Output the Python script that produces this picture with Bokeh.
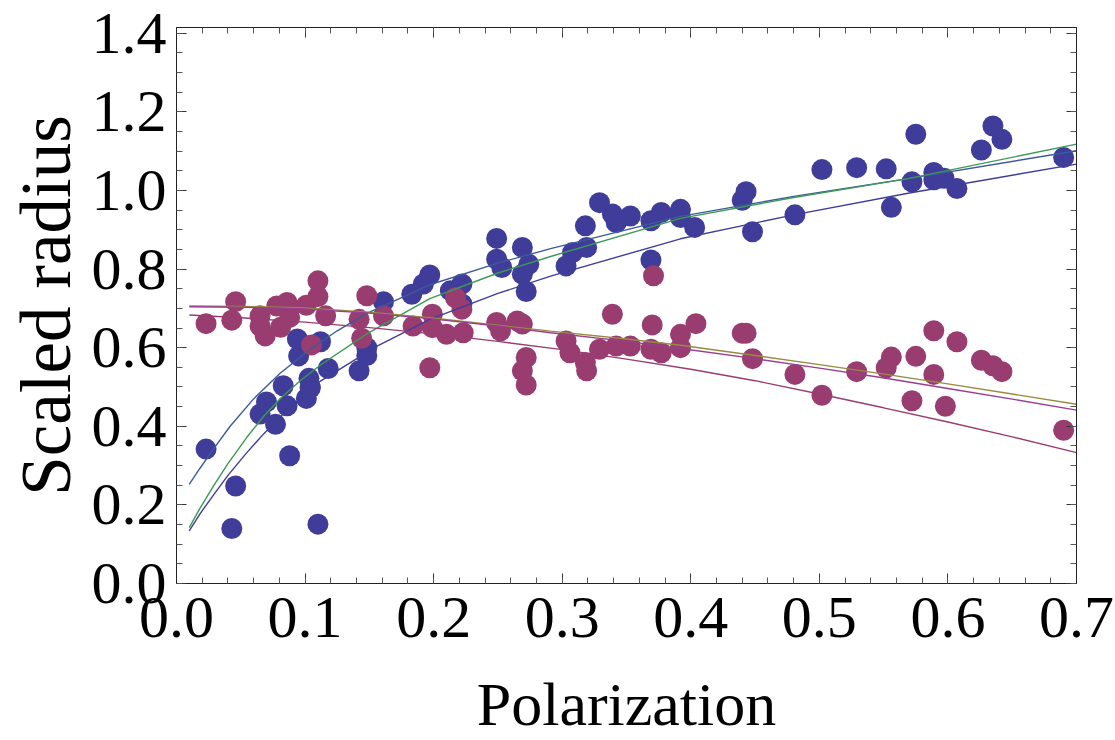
from bokeh.plotting import figure
from bokeh.models import (Range1d, FixedTicker, LinearAxis, PrintfTickFormatter,
                          CustomJSTickFormatter)
from bokeh.embed import file_html
from bokeh.resources import INLINE

# ---- data ----
blue_x = [0.023, 0.046, 0.043, 0.110, 0.088, 0.065, 0.070, 0.077, 0.083, 0.086,
          0.095, 0.094, 0.101, 0.104, 0.103, 0.112, 0.118, 0.142, 0.148, 0.148,
          0.161, 0.183, 0.192, 0.197, 0.213, 0.222, 0.222, 0.249, 0.249, 0.253,
          0.269, 0.274, 0.269, 0.272, 0.303, 0.308, 0.319, 0.318, 0.329, 0.339,
          0.342, 0.353, 0.369, 0.377, 0.392, 0.392, 0.403, 0.369, 0.440, 0.443,
          0.448, 0.481, 0.502, 0.529, 0.552, 0.556, 0.572, 0.575, 0.589, 0.589,
          0.597, 0.607, 0.626, 0.635, 0.642, 0.690, 0.104]
blue_y = [0.342, 0.248, 0.140, 0.151, 0.325, 0.431, 0.462, 0.405, 0.503, 0.452,
          0.579, 0.622, 0.471, 0.498, 0.522, 0.615, 0.547, 0.541, 0.580, 0.600,
          0.717, 0.736, 0.762, 0.785, 0.745, 0.762, 0.711, 0.878, 0.825, 0.804,
          0.855, 0.812, 0.787, 0.743, 0.808, 0.842, 0.855, 0.910, 0.969, 0.940,
          0.918, 0.935, 0.923, 0.944, 0.952, 0.931, 0.906, 0.823, 0.975, 0.997,
          0.895, 0.938, 1.053, 1.058, 1.055, 0.957, 1.022, 1.143, 1.046, 1.027,
          1.031, 1.005, 1.103, 1.164, 1.130, 1.084, 0.498]

purple_x = [0.023, 0.043, 0.046, 0.065, 0.065, 0.069, 0.078, 0.086, 0.081, 0.088,
            0.101, 0.110, 0.110, 0.105, 0.116, 0.148, 0.144, 0.142, 0.161, 0.184,
            0.197, 0.223, 0.210, 0.199, 0.199, 0.222, 0.217, 0.249, 0.252, 0.265,
            0.269, 0.272, 0.269, 0.272, 0.303, 0.306, 0.318, 0.319, 0.329, 0.339,
            0.342, 0.353, 0.369, 0.377, 0.370, 0.371, 0.392, 0.392, 0.404, 0.440,
            0.443, 0.448, 0.481, 0.502, 0.529, 0.552, 0.556, 0.572, 0.575, 0.589,
            0.589, 0.598, 0.607, 0.626, 0.635, 0.642, 0.690, 0.088]
purple_y = [0.661, 0.670, 0.717, 0.681, 0.655, 0.630, 0.706, 0.715, 0.652, 0.677,
            0.708, 0.770, 0.730, 0.607, 0.681, 0.732, 0.624, 0.672, 0.681, 0.655,
            0.549, 0.638, 0.634, 0.651, 0.685, 0.698, 0.727, 0.664, 0.643, 0.668,
            0.660, 0.575, 0.541, 0.505, 0.617, 0.587, 0.562, 0.541, 0.596, 0.685,
            0.604, 0.604, 0.596, 0.587, 0.658, 0.783, 0.634, 0.600, 0.661, 0.637,
            0.637, 0.572, 0.532, 0.479, 0.539, 0.549, 0.576, 0.465, 0.578, 0.643,
            0.532, 0.451, 0.615, 0.568, 0.554, 0.539, 0.390, 0.702]

# fitted curves
fit_a_x = [0.0099, 0.018, 0.0287, 0.0417, 0.0598, 0.0806, 0.104, 0.125, 0.148,
           0.197, 0.250, 0.291, 0.392, 0.480, 0.569, 0.700]
fit_a_y = [0.252, 0.292, 0.342, 0.400, 0.469, 0.535, 0.596, 0.643, 0.687,
           0.760, 0.815, 0.852, 0.934, 0.985, 1.030, 1.101]
fit_b_x = [0.0099, 0.018, 0.0287, 0.040, 0.0547, 0.068, 0.0806, 0.0962, 0.112,
           0.148, 0.197, 0.250, 0.291, 0.392, 0.480, 0.569, 0.700]
fit_b_y = [0.142, 0.190, 0.248, 0.305, 0.372, 0.426, 0.470, 0.516, 0.556,
           0.635, 0.725, 0.790, 0.832, 0.929, 0.982, 1.030, 1.118]
fit_c_x = [0.0099, 0.018, 0.0287, 0.040, 0.0547, 0.0676, 0.085, 0.112, 0.156,
           0.197, 0.250, 0.291, 0.392, 0.480, 0.569, 0.700]
fit_c_y = [0.134, 0.176, 0.225, 0.275, 0.333, 0.380, 0.438, 0.515, 0.604,
           0.672, 0.738, 0.782, 0.877, 0.938, 0.993, 1.067]
fit_d_x = [0.010, 0.050, 0.096, 0.150, 0.197, 0.250, 0.291, 0.350, 0.392,
           0.450, 0.500, 0.548, 0.600, 0.650, 0.700]
fit_d_y = [0.706, 0.705, 0.702, 0.690, 0.676, 0.657, 0.642, 0.622, 0.606,
           0.580, 0.557, 0.534, 0.508, 0.482, 0.456]
fit_e_x = [0.010, 0.050, 0.096, 0.150, 0.197, 0.250, 0.291, 0.350, 0.392,
           0.450, 0.500, 0.548, 0.600, 0.650, 0.700]
fit_e_y = [0.704, 0.703, 0.699, 0.688, 0.674, 0.655, 0.638, 0.616, 0.598,
           0.572, 0.548, 0.524, 0.496, 0.469, 0.441]
fit_f_x = [0.010, 0.050, 0.100, 0.150, 0.200, 0.250, 0.300, 0.350, 0.400,
           0.450, 0.500, 0.550, 0.600, 0.650, 0.700]
fit_f_y = [0.683, 0.676, 0.665, 0.651, 0.635, 0.616, 0.595, 0.571, 0.545,
           0.516, 0.482, 0.447, 0.411, 0.373, 0.333]

x_ticks = [0.0, 0.1, 0.2, 0.3, 0.4, 0.5, 0.6, 0.7]
x_minor = [i * 0.02 for i in range(0, 36)]
y_ticks = [0.0, 0.2, 0.4, 0.6, 0.8, 1.0, 1.2, 1.4]
y_minor = [i * 0.05 for i in range(0, 29)]

BLUE = "#3F3D99"
PURPLE = "#993D71"
FONT = "Liberation Serif"

p = figure(width=1115, height=740, output_backend="svg", toolbar_location=None,
           x_range=Range1d(0.0, 0.7), y_range=Range1d(0.0, 1.4146),
           x_axis_type=None, y_axis_type=None,
           min_border_left=176, min_border_right=39, min_border_top=27,
           min_border_bottom=157)
p.grid.visible = False
p.outline_line_color = "#222222"
p.background_fill_color = "white"
p.border_fill_color = "white"

xt = FixedTicker(ticks=x_ticks, minor_ticks=x_minor)
yt = FixedTicker(ticks=y_ticks, minor_ticks=y_minor)

bottom = LinearAxis(axis_label="Polarization")
left = LinearAxis(axis_label="Scaled radius")
top = LinearAxis()
right = LinearAxis()
p.add_layout(bottom, "below")
p.add_layout(left, "left")
p.add_layout(top, "above")
p.add_layout(right, "right")

for ax, tk in [(bottom, xt), (top, xt), (left, yt), (right, yt)]:
    ax.ticker = tk
    ax.major_tick_in = 10
    ax.major_tick_out = 0
    ax.minor_tick_in = 6
    ax.minor_tick_out = 0
    ax.axis_line_color = "#222222"
    ax.major_tick_line_color = "#333333"
    ax.minor_tick_line_color = "#555555"
    ax.major_label_text_font = FONT
    ax.major_label_text_color = "black"

for ax in [bottom, left]:
    ax.formatter = PrintfTickFormatter(format="%.1f")
    ax.major_label_text_font_size = "60px"
    ax.axis_label_text_font = FONT
    ax.axis_label_text_font_style = "normal"
    ax.axis_label_text_color = "black"

for ax in [top, right]:
    ax.formatter = CustomJSTickFormatter(code="return ''")
    ax.major_label_standoff = 0

bottom.major_label_standoff = 14
left.major_label_standoff = 10
bottom.axis_label_text_font_size = "62px"
left.axis_label_text_font_size = "71px"
bottom.axis_label_standoff = 30
left.axis_label_standoff = 4

p.scatter(blue_x, blue_y, size=21, color=BLUE, line_color=None)
p.scatter(purple_x, purple_y, size=21, color=PURPLE, line_color=None)

p.line(fit_a_x, fit_a_y, line_width=1.4, color="#3D5A99")
p.line(fit_b_x, fit_b_y, line_width=1.4, color="#3D9956")
p.line(fit_c_x, fit_c_y, line_width=1.4, color="#3F3D99")
p.line(fit_d_x, fit_d_y, line_width=1.4, color="#998B3D")
p.line(fit_e_x, fit_e_y, line_width=1.4, color="#993D90")
p.line(fit_f_x, fit_f_y, line_width=1.4, color="#993D71")

open("out.html", "w").write(file_html(p, INLINE))
